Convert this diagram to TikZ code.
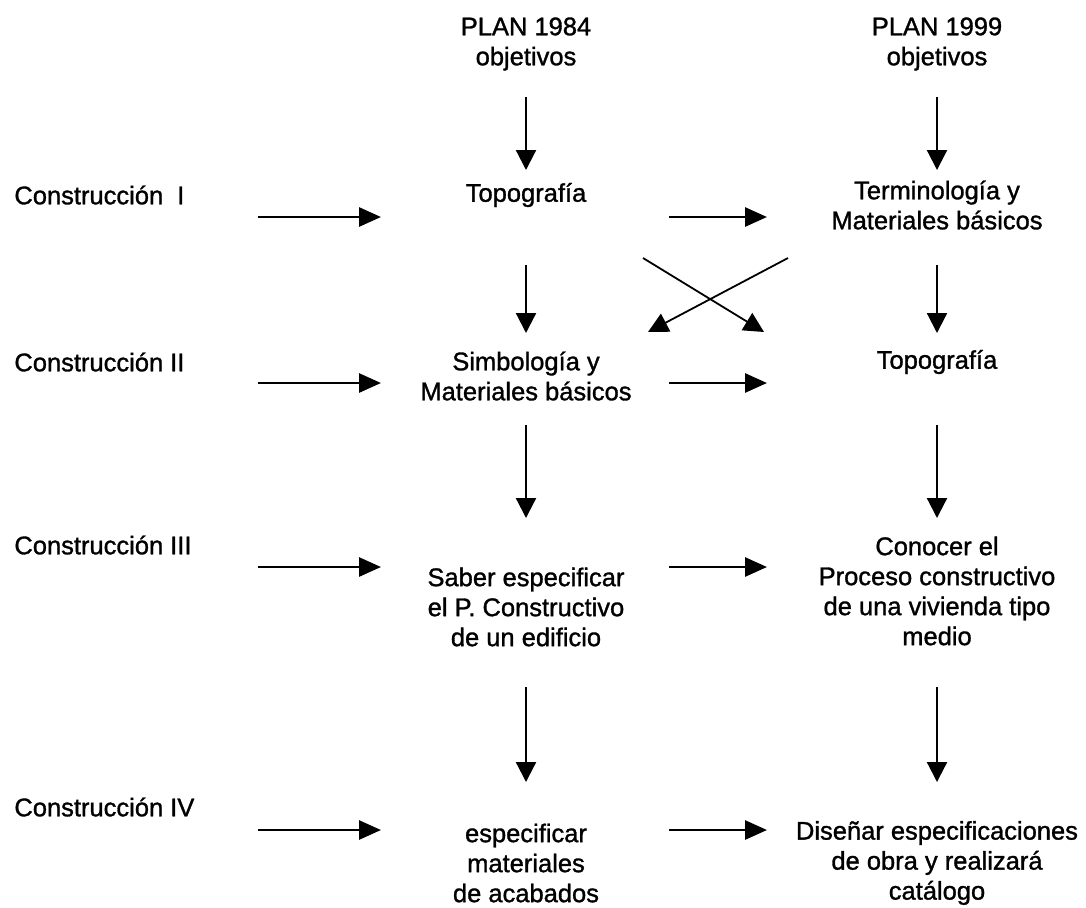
\documentclass[tikz,border=0pt]{standalone}
\usepackage{fontspec}
\setmainfont{Liberation Sans}[RawFeature={embolden=1.2}]
\usetikzlibrary{arrows.meta}
\tikzstyle{objective}=[align=center, inner sep=0pt, font=\fontsize{12.75}{15}\selectfont]
\tikzstyle{course}=[anchor=west, inner sep=0pt, font=\fontsize{12.75}{15}\selectfont]
\tikzstyle{flow}=[line width=1.1pt, -{Triangle[length=10pt, width=10pt]}]
\tikzstyle{feed}=[line width=1.4pt, -{Triangle[length=11pt, width=9.5pt]}]
\tikzstyle{swap}=[line width=0.9pt, -{Triangle[length=10pt, width=10pt]}]

\begin{document}
\begin{tikzpicture}[x=0.5pt, y=-0.5pt]
    \useasboundingbox (0, 0) rectangle (1086, 907);

    \node[objective] (plan84) at (526, 44) {PLAN 1984\\objetivos};
    \node[objective] (plan99) at (937, 44) {PLAN 1999\\objetivos};

    \node[course] (c1) at (14, 195) {Construcción\hspace{7pt}I};
    \node[course] (c2) at (14, 362) {Construcción II};
    \node[course] (c3) at (14, 545) {Construcción III};
    \node[course] (c4) at (14, 807) {Construcción IV};

    \node[objective] (topo84) at (526, 195) {Topografía};
    \node[objective] (termin99) at (937, 205) {Terminología y\\Materiales básicos};
    \node[objective] (simbol84) at (526, 376) {Simbología y\\Materiales básicos};
    \node[objective] (topo99) at (937, 362) {Topografía};
    \node[objective] (proces84) at (526, 607) {Saber especificar\\el P. Constructivo\\de un edificio};
    \node[objective] (proces99) at (937, 591) {Conocer el\\Proceso constructivo\\de una vivienda tipo\\medio};
    \node[objective] (acaba84) at (526, 863) {especificar\\materiales\\de acabados};
    \node[objective] (obra99) at (937, 863) {Diseñar especificaciones\\de obra y realizará\\catálogo};

    % row arrows
    \foreach \r/\y in {1/217, 2/383, 3/567, 4/830} {
        \coordinate (from\r) at (258, \y);
        \coordinate (into\r) at (381, \y);
        \coordinate (pass\r) at (669, \y);
        \coordinate (reach\r) at (767, \y);
        \draw[feed] (from\r) -- (into\r);
        \draw[feed] (pass\r) -- (reach\r);
    }

    % column arrows
    \foreach \c/\x in {a/526, b/937} {
        \foreach \s/\ya/\yb in {0/97/170, 1/265/333, 2/425/518, 3/687/782} {
            \coordinate (\c top\s) at (\x, \ya);
            \coordinate (\c tip\s) at (\x, \yb);
            \draw[flow] (\c top\s) -- (\c tip\s);
        }
    }

    % crossing
    \coordinate (xfrom) at (643, 258);
    \coordinate (xto) at (764, 332);
    \coordinate (yfrom) at (788, 258);
    \coordinate (yto) at (648, 332);
    \draw[swap] (xfrom) -- (xto);
    \draw[swap] (yfrom) -- (yto);
\end{tikzpicture}
\end{document}
